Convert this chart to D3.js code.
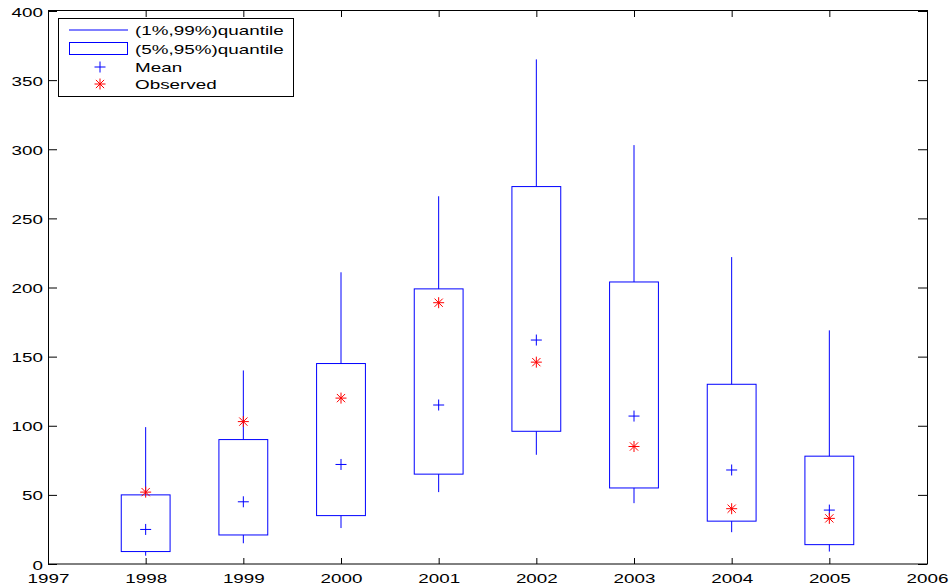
<!DOCTYPE html>
<html>
<head>
<meta charset="utf-8">
<script src="https://cdn.jsdelivr.net/npm/d3@7"></script>
<style>
  body { margin: 0; background: #fff; }
  text { font-family: "Liberation Sans", Arial, sans-serif; font-size: 13px; fill: #000; }
</style>
</head>
<body>
<script>
// values
var years = [1998, 1999, 2000, 2001, 2002, 2003, 2004, 2005];
var q01 = [6, 15, 26, 52, 79, 44, 23, 9];
var q99 = [99, 140, 211, 266, 365, 303, 222, 169];
var q05 = [9, 21, 35, 65, 96, 55, 31, 14];
var q95 = [50, 90, 145, 199, 273, 204, 130, 78];
var means = [25, 45, 72, 115, 162, 107, 68, 39];
var observed = [52, 103, 120, 189, 146, 85, 40, 33];

var xTicks = [1997, 1998, 1999, 2000, 2001, 2002, 2003, 2004, 2005, 2006];
var yTicks = [0, 50, 100, 150, 200, 250, 300, 350, 400];
var legendLabels = ["(1%,99%)quantile", "(5%,95%)quantile", "Mean", "Observed"];

var width = 952;
var height = 588;
var stretch = 1.45; // text in the picture is stretched sideways
var boxW = 0.5;     // box width in years

var svg = d3.select("body").append("svg")
    .attr("width", width)
    .attr("height", height);

svg.append("rect")
    .attr("width", width)
    .attr("height", height)
    .attr("fill", "#fff");

var x = d3.scaleLinear().domain([1997, 2006]).range([48, 927]);
var y = d3.scaleLinear().domain([0, 400]).range([564, 11]);

// axes, ticks pointing inward on all four sides
var xAxis = svg.append("g")
    .attr("transform", "translate(0,564)")
    .call(d3.axisBottom(x).tickValues(xTicks).tickSize(-6).tickFormat(d3.format("d")));
svg.append("g")
    .attr("transform", "translate(0,11)")
    .call(d3.axisTop(x).tickValues(xTicks).tickSize(-6).tickFormat(""));
var yAxis = svg.append("g")
    .attr("transform", "translate(48,0)")
    .call(d3.axisLeft(y).tickValues(yTicks).tickSize(-9));
svg.append("g")
    .attr("transform", "translate(927,0)")
    .call(d3.axisRight(y).tickValues(yTicks).tickSize(-9).tickFormat(""));

svg.selectAll(".domain").remove();
svg.selectAll(".tick line").attr("stroke", "#000");

xAxis.selectAll("text")
    .attr("y", 0).attr("dy", null)
    .attr("fill", "#000")
    .attr("transform", "translate(0,19) scale(" + stretch + ",1)");
yAxis.selectAll("text")
    .attr("x", 0).attr("dy", null)
    .attr("fill", "#000")
    .attr("transform", "translate(-5,5) scale(" + stretch + ",1)");
svg.selectAll(".tick text")
    .style("font-family", "'Liberation Sans', Arial, sans-serif")
    .style("font-size", "13px");

// frame
svg.append("rect")
    .attr("x", 48.5)
    .attr("y", 10.5)
    .attr("width", 879)
    .attr("height", 553.5)
    .attr("fill", "none")
    .attr("stroke", "#000");

var plot = svg.append("g");

// whiskers
plot.selectAll(".wTop")
    .data(years)
    .join("line")
    .attr("x1", function(d) { return x(d); })
    .attr("x2", function(d) { return x(d); })
    .attr("y1", function(d, i) { return y(q95[i]); })
    .attr("y2", function(d, i) { return y(q99[i]); })
    .attr("stroke", "#0000ff");

plot.selectAll(".wBot")
    .data(years)
    .join("line")
    .attr("x1", function(d) { return x(d); })
    .attr("x2", function(d) { return x(d); })
    .attr("y1", function(d, i) { return y(q05[i]); })
    .attr("y2", function(d, i) { return y(q01[i]); })
    .attr("stroke", "#0000ff");

// boxes
plot.selectAll(".box")
    .data(years)
    .join("rect")
    .attr("x", function(d) { return x(d - boxW / 2); })
    .attr("width", function(d) { return x(d + boxW / 2) - x(d - boxW / 2); })
    .attr("y", function(d, i) { return y(q95[i]); })
    .attr("height", function(d, i) { return y(q05[i]) - y(q95[i]); })
    .attr("fill", "none")
    .attr("stroke", "#0000ff");

function plusPath(s) {
    return "M" + (-s) + ",0H" + s + "M0," + (-s) + "V" + s;
}
function starPath(s) {
    var d = s * 0.75;
    return plusPath(s) + "M" + (-d) + "," + (-d) + "L" + d + "," + d +
        "M" + (-d) + "," + d + "L" + d + "," + (-d);
}

plot.selectAll(".mean")
    .data(years)
    .join("path")
    .attr("transform", function(d, i) { return "translate(" + x(d) + "," + y(means[i]) + ")"; })
    .attr("d", plusPath(5.5))
    .attr("stroke", "#0000ff")
    .attr("fill", "none");

plot.selectAll(".obs")
    .data(years)
    .join("path")
    .attr("transform", function(d, i) { return "translate(" + x(d) + "," + y(observed[i]) + ")"; })
    .attr("d", starPath(5.5))
    .attr("stroke", "#ff0000")
    .attr("fill", "none");

// legend
var legend = svg.append("g");
legend.append("rect")
    .attr("x", 58.5)
    .attr("y", 18.5)
    .attr("width", 235)
    .attr("height", 78)
    .attr("fill", "#fff")
    .attr("stroke", "#000");

var rowY = [30, 48.5, 67, 84];

legend.append("line")
    .attr("x1", 69).attr("x2", 128)
    .attr("y1", rowY[0]).attr("y2", rowY[0])
    .attr("stroke", "#0000ff");
legend.append("rect")
    .attr("x", 69.5).attr("y", 42.5)
    .attr("width", 58).attr("height", 12)
    .attr("fill", "none")
    .attr("stroke", "#0000ff");
legend.append("path")
    .attr("transform", "translate(100," + rowY[2] + ")")
    .attr("d", plusPath(5.5))
    .attr("stroke", "#0000ff");
legend.append("path")
    .attr("transform", "translate(100," + rowY[3] + ")")
    .attr("d", starPath(5.5))
    .attr("stroke", "#ff0000");

legend.selectAll(".lab")
    .data(legendLabels)
    .join("text")
    .attr("transform", function(d, i) { return "translate(135," + (rowY[i] + 5) + ") scale(" + stretch + ",1)"; })
    .text(function(d) { return d; });
</script>
</body>
</html>
